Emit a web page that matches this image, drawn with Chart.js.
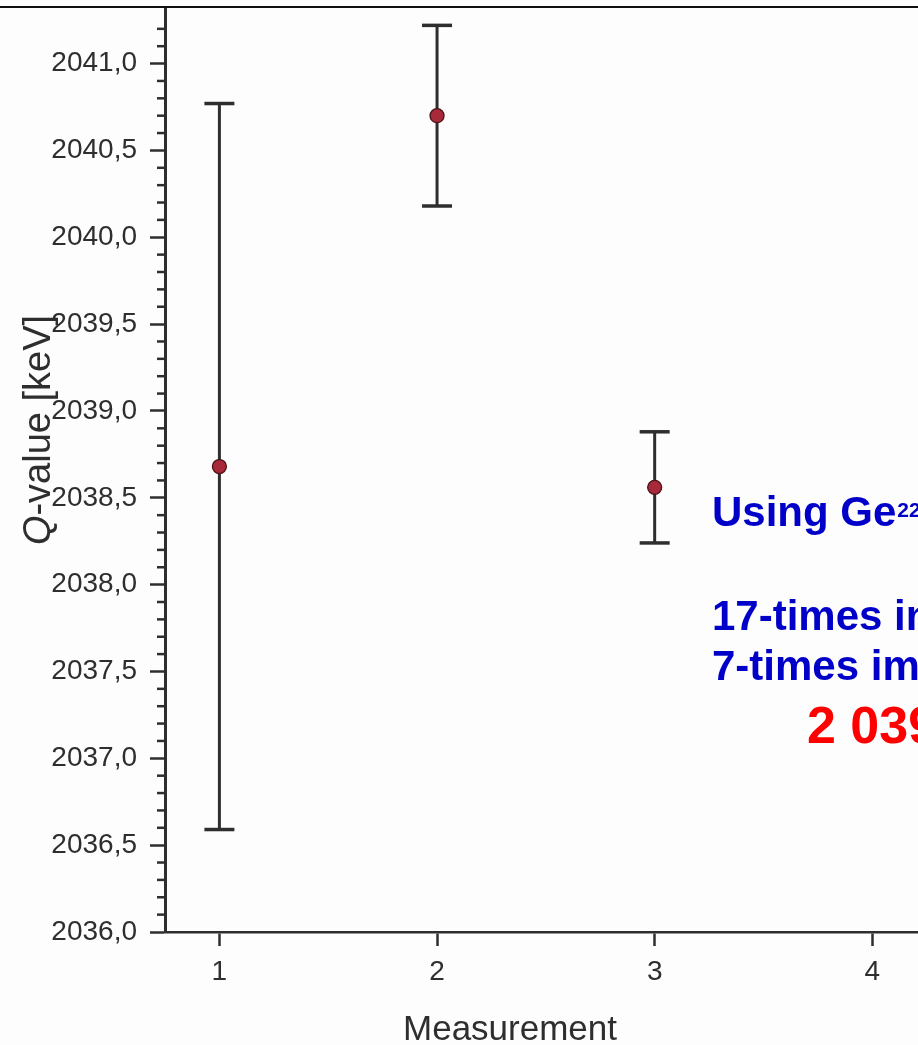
<!DOCTYPE html>
<html>
<head>
<meta charset="utf-8">
<script src="https://cdn.jsdelivr.net/npm/chart.js@4.4.0/dist/chart.umd.min.js"></script>
<style>
  html, body { margin: 0; padding: 0; background: #fdfdfd; overflow: hidden; }
  #wrap { position: relative; width: 918px; height: 1045px; }
  #topRule { position: absolute; left: 0; top: 6px; width: 918px; height: 2px; background: #111; }
</style>
</head>
<body>
<div id="wrap">
  <canvas id="qChart" width="918" height="1045"></canvas>
  <div id="topRule"></div>
</div>
<script>
// measured Q-values (keV) with 1-sigma errors
var measurements = [1, 2, 3];
var qValues = [2038.68, 2040.70, 2038.56];
var qErrors = [2.09, 0.52, 0.32];

var xTicks = [1, 2, 3, 4];
var yTicks = [2036.0, 2036.5, 2037.0, 2037.5, 2038.0, 2038.5, 2039.0, 2039.5, 2040.0, 2040.5, 2041.0];

var yTitleRest = '-value [keV]';
var xTitle = 'Measurement';
var slideLines = ['17-times in', '7-times im'];
var slideFirst = 'Using Ge';
var slideSup = '22';
var slideResult = '2 039';

var axisColor = '#2e2e2e';
var font = '"Liberation Sans", Arial, Helvetica, sans-serif';

// error bars: one small line dataset per measurement, caps drawn as 'line' points
var errorSets = measurements.map(function (m, i) {
  return {
    type: 'line',
    data: [{x: m, y: qValues[i] - qErrors[i]}, {x: m, y: qValues[i] + qErrors[i]}],
    borderColor: axisColor,
    borderWidth: 3,
    pointStyle: 'line',
    pointRadius: 15,
    pointBorderWidth: 3.5,
    pointBorderColor: axisColor,
    showLine: true
  };
});

var pointSet = {
  type: 'scatter',
  data: measurements.map(function (m, i) { return {x: m, y: qValues[i]}; }),
  backgroundColor: '#a8293a',
  borderColor: '#4a1418',
  borderWidth: 1.3,
  pointRadius: 7
};

function noPadding(scale) {
  scale.paddingLeft = 0;
  scale.paddingRight = 0;
  scale.paddingTop = 0;
  scale.paddingBottom = 0;
}

var decorations = {
  id: 'decorations',
  afterDraw: function (chart) {
    var ctx = chart.ctx, y = chart.scales.y, area = chart.chartArea;
    ctx.save();

    // minor ticks every 0.1
    ctx.strokeStyle = axisColor;
    ctx.lineWidth = 2.5;
    for (var k = 1; k < 60; k++) {
      if (k % 5 === 0) continue;
      var v = y.min + k * 0.1;
      if (v > y.max - 0.05) break;
      var py = y.getPixelForValue(v);
      ctx.beginPath();
      ctx.moveTo(area.left - 8, py);
      ctx.lineTo(area.left, py);
      ctx.stroke();
    }

    // y title with italic Q
    ctx.fillStyle = axisColor;
    ctx.translate(50, 430);
    ctx.rotate(-Math.PI / 2);
    ctx.textBaseline = 'alphabetic';
    ctx.textAlign = 'left';
    ctx.font = 'italic 38px ' + font;
    var wq = ctx.measureText('Q').width;
    ctx.font = '38px ' + font;
    var wr = ctx.measureText(yTitleRest).width;
    var x0 = -(wq + wr) / 2;
    ctx.font = 'italic 38px ' + font;
    ctx.fillText('Q', x0, 0);
    ctx.font = '38px ' + font;
    ctx.fillText(yTitleRest, x0 + wq, 0);
    ctx.setTransform(1, 0, 0, 1, 0, 0);

    // x title
    ctx.font = '35px ' + font;
    ctx.textAlign = 'center';
    ctx.fillText(xTitle, 510, 1040);

    // slide text over the chart
    ctx.textAlign = 'left';
    ctx.fillStyle = '#0000c8';
    ctx.font = 'bold 42px ' + font;
    ctx.fillText(slideFirst, 712, 526);
    var wf = ctx.measureText(slideFirst).width;
    ctx.font = 'bold 21px ' + font;
    ctx.fillText(slideSup, 712 + wf + 1, 517);
    ctx.font = 'bold 42px ' + font;
    ctx.fillText(slideLines[0], 712, 630);
    ctx.fillText(slideLines[1], 712, 680);
    ctx.fillStyle = '#ff0000';
    ctx.font = 'bold 52px ' + font;
    ctx.fillText(slideResult, 807, 743);

    ctx.restore();
  }
};

var ctx = document.getElementById('qChart').getContext('2d');
var qChart = new Chart(ctx, {
  data: {
    datasets: [pointSet].concat(errorSets)
  },
  options: {
    responsive: false,
    animation: false,
    layout: { autoPadding: false, padding: { top: 8, right: 0, left: 0, bottom: 0 } },
    plugins: { legend: { display: false }, tooltip: { enabled: false } },
    scales: {
      x: {
        type: 'linear',
        min: 0.75,
        max: 4.21,
        afterBuildTicks: function (axis) { axis.ticks = xTicks.map(function (v) { return {value: v}; }); },
        afterFit: function (scale) { scale.height = 113; noPadding(scale); },
        border: { color: axisColor, width: 2.5 },
        grid: { drawOnChartArea: false, tickLength: 14, tickColor: axisColor, tickWidth: 2.5 },
        ticks: { color: axisColor, padding: 9, font: { family: font, size: 28 } }
      },
      y: {
        type: 'linear',
        min: 2036,
        max: 2041.32,
        afterBuildTicks: function (axis) { axis.ticks = yTicks.map(function (v) { return {value: v}; }); },
        afterFit: function (scale) { scale.width = 165; noPadding(scale); },
        border: { color: axisColor, width: 3 },
        grid: { drawOnChartArea: false, tickLength: 15, tickColor: axisColor, tickWidth: 2.5 },
        ticks: {
          color: axisColor,
          padding: 13,
          font: { family: font, size: 28 },
          callback: function (v) { return v.toFixed(1).replace('.', ','); }
        }
      }
    }
  },
  plugins: [decorations]
});
</script>
</body>
</html>
